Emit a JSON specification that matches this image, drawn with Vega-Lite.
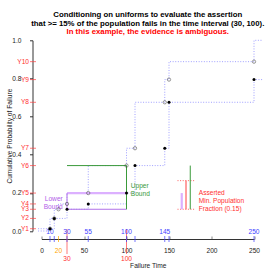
{
  "$schema": "https://vega.github.io/schema/vega-lite/v6.json",
  "width": 212.5,
  "height": 190.7,
  "autosize": {"type": "none"},
  "padding": {"left": 41.5, "top": 40.3, "right": 26, "bottom": 49},
  "background": "white",
  "config": {"view": {"stroke": null}, "font": "Liberation Sans", "axis": {"grid": false}},
  "title": {
    "text": ["Conditioning on uniforms to evaluate the assertion", "that >= 15% of the population fails in the time interval (30, 100)."],
    "subtitle": "In this example, the evidence is ambiguous.",
    "fontSize": 7.8, "fontWeight": "bold", "lineHeight": 9.2, "color": "black",
    "subtitleFontSize": 7.8, "subtitleFontWeight": "bold", "subtitleColor": "#ff0000",
    "subtitlePadding": 0.5, "subtitleLineHeight": 9.2,
    "offset": 1.5, "anchor": "middle", "font": "Liberation Sans", "subtitleFont": "Liberation Sans"
  },
  "resolve": {"axis": {"x": "independent", "y": "independent"}},
  "datasets": {
    "steps": [
      {"t": -4, "lo": 0, "up": 0.012},
      {"t": 10, "status": "failure", "lo": 0.012, "op": 0.012, "up": 0.066, "lab": "10"},
      {"t": 15, "status": "failure", "lo": 0.066, "op": 0.066, "up": 0.114, "lab": ""},
      {"t": 20, "status": "censored", "lo": 0.066, "op": 0.114, "up": 0.142, "lab": "20"},
      {"t": 30, "status": "failure", "lo": 0.114, "op": 0.142, "up": 0.199, "lab": "30"},
      {"t": 55, "status": "failure", "lo": 0.142, "op": 0.199, "up": 0.343, "lab": "55"},
      {"t": 100, "status": "failure", "lo": 0.199, "op": 0.343, "up": 0.434, "lab": "100"},
      {"t": 110, "status": "failure", "lo": 0.343, "op": 0.434, "up": 0.675, "lab": ""},
      {"t": 145, "status": "failure", "lo": 0.434, "op": 0.675, "up": 0.794, "lab": "145"},
      {"t": 150, "status": "failure", "lo": 0.675, "op": 0.794, "up": 0.888, "lab": ""},
      {"t": 250, "status": "failure", "lo": 0.794, "op": 0.888, "up": 1.0, "lab": "250"},
      {"t": 260, "lo": 0.794, "up": 1.0}
    ],
    "yq": [
      {"name": "Y1", "y": 0.012}, {"name": "Y2", "y": 0.066}, {"name": "Y3", "y": 0.114},
      {"name": "Y4", "y": 0.142}, {"name": "Y5", "y": 0.199}, {"name": "Y6", "y": 0.343},
      {"name": "Y7", "y": 0.434}, {"name": "Y8", "y": 0.675}, {"name": "Y9", "y": 0.794},
      {"name": "Y10", "y": 0.888}
    ],
    "bounds": [
      {"kind": "upper", "x": 30, "x2": 100, "y": 0.343, "y2": 0.343},
      {"kind": "upper", "x": 100, "x2": 100, "y": 0.114, "y2": 0.343},
      {"kind": "upper", "x": 175, "x2": 175, "y": 0.114, "y2": 0.343},
      {"kind": "lowerWide", "x": 30, "x2": 100, "y": 0.199, "y2": 0.199},
      {"kind": "lowerWide", "x": 165, "x2": 165, "y": 0.114, "y2": 0.199},
      {"kind": "lower", "x": 30, "x2": 100, "y": 0.114, "y2": 0.114},
      {"kind": "lower", "x": 30, "x2": 30, "y": 0.114, "y2": 0.199},
      {"kind": "asserted", "x": 170, "x2": 170, "y": 0.114, "y2": 0.264},
      {"kind": "guide", "x": 160, "x2": 180, "y": 0.114, "y2": 0.114},
      {"kind": "guide", "x": 160, "x2": 180, "y": 0.264, "y2": 0.264}
    ],
    "xmarks": [
      {"t": 30, "lab": "30"},
      {"t": 100, "lab": "100"}
    ],
    "notes": [
      {"kind": "upper", "lab": "Upper\nBound", "x": 105, "y": 0.236},
      {"kind": "lower", "lab": "Lower\nBound", "x": 25, "y": 0.169},
      {"kind": "asserted", "lab": "Asserted\nMin. Population\nFraction (0.15)", "x": 185, "y": 0.2}
    ]
  },
  "layer": [
    {
      "data": {"name": "steps"},
      "transform": [{"fold": ["lo", "up"], "as": ["series", "v"]}],
      "mark": {"type": "line", "interpolate": "step-after", "color": "#a0a0ff", "strokeDash": [1, 1.6], "strokeWidth": 1},
      "encoding": {
        "x": {"field": "t", "type": "quantitative", "scale": {"domain": [0, 250], "nice": false, "zero": false},
          "axis": {"title": "Failure Time", "values": [0, 50, 100, 150, 200, 250], "format": "d", "offset": 8,
            "domainColor": "#333", "tickSize": -3, "tickColor": "#888", "labelPadding": 11.5, "labelFontSize": 6.6,
            "labelColor": "#222", "labelFlush": false, "labelOverlap": false, "titleFontSize": 6.6,
            "titleFontWeight": "normal", "titleColor": "#222", "titlePadding": 8}},
        "y": {"field": "v", "type": "quantitative", "scale": {"domain": [0, 1], "nice": false, "zero": false},
          "axis": {"title": "Cumulative Probability of Failure", "values": [0, 0.2, 0.4, 0.6, 0.8, 1], "format": ".1f",
            "offset": 9, "domainColor": "#333", "tickSize": 3, "tickColor": "#333", "labelPadding": 8.5,
            "labelFontSize": 6.6, "labelColor": "#222", "labelFlush": false, "labelOverlap": false,
            "titleFontSize": 6.6, "titleFontWeight": "normal", "titleColor": "#222", "titlePadding": -1}},
        "detail": {"field": "series"}
      }
    },
    {
      "data": {"name": "bounds"},
      "transform": [{"filter": "datum.kind == 'guide'"}],
      "mark": {"type": "rule", "color": "#ff6060", "strokeDash": [1, 1.6], "strokeWidth": 1},
      "encoding": {
        "x": {"field": "x", "type": "quantitative", "scale": {"domain": [0, 250]}, "axis": null},
        "x2": {"field": "x2"},
        "y": {"field": "y", "type": "quantitative", "scale": {"domain": [0, 1]}, "axis": null},
        "y2": {"field": "y2"}
      }
    },
    {
      "data": {"name": "bounds"},
      "transform": [{"filter": "datum.kind == 'lowerWide'"}],
      "mark": {"type": "rule", "color": "#dcb0ff", "strokeWidth": 2.2},
      "encoding": {
        "x": {"field": "x", "type": "quantitative", "scale": {"domain": [0, 250]}, "axis": null},
        "x2": {"field": "x2"},
        "y": {"field": "y", "type": "quantitative", "scale": {"domain": [0, 1]}, "axis": null},
        "y2": {"field": "y2"}
      }
    },
    {
      "data": {"name": "bounds"},
      "transform": [{"filter": "datum.kind == 'lower'"}],
      "mark": {"type": "rule", "color": "#b070e8", "strokeWidth": 1},
      "encoding": {
        "x": {"field": "x", "type": "quantitative", "scale": {"domain": [0, 250]}, "axis": null},
        "x2": {"field": "x2"},
        "y": {"field": "y", "type": "quantitative", "scale": {"domain": [0, 1]}, "axis": null},
        "y2": {"field": "y2"}
      }
    },
    {
      "data": {"name": "bounds"},
      "transform": [{"filter": "datum.kind == 'upper'"}],
      "mark": {"type": "rule", "color": "#3a9a3a", "strokeWidth": 1},
      "encoding": {
        "x": {"field": "x", "type": "quantitative", "scale": {"domain": [0, 250]}, "axis": null},
        "x2": {"field": "x2"},
        "y": {"field": "y", "type": "quantitative", "scale": {"domain": [0, 1]}, "axis": null},
        "y2": {"field": "y2"}
      }
    },
    {
      "data": {"name": "bounds"},
      "transform": [{"filter": "datum.kind == 'asserted'"}],
      "mark": {"type": "rule", "color": "#ff4040", "strokeWidth": 1},
      "encoding": {
        "x": {"field": "x", "type": "quantitative", "scale": {"domain": [0, 250]}, "axis": null},
        "x2": {"field": "x2"},
        "y": {"field": "y", "type": "quantitative", "scale": {"domain": [0, 1]}, "axis": null},
        "y2": {"field": "y2"}
      }
    },
    {
      "data": {"name": "xmarks"},
      "mark": {"type": "tick", "orient": "vertical", "color": "#ff4040", "size": 25, "thickness": 1},
      "encoding": {
        "x": {"field": "t", "type": "quantitative", "scale": {"domain": [0, 250]}, "axis": null},
        "y": {"datum": -0.055, "type": "quantitative", "scale": {"domain": [0, 1]}, "axis": null}
      }
    },
    {
      "data": {"name": "steps"},
      "transform": [{"filter": "datum.status == 'censored'"}],
      "mark": {"type": "tick", "orient": "vertical", "color": "#ffa500", "size": 6, "thickness": 1},
      "encoding": {
        "x": {"field": "t", "type": "quantitative", "scale": {"domain": [0, 250]}, "axis": null},
        "y": {"datum": -0.042, "type": "quantitative", "scale": {"domain": [0, 1]}, "axis": null}
      }
    },
    {
      "data": {"name": "steps"},
      "transform": [{"filter": "datum.status == 'failure'"}],
      "mark": {"type": "tick", "orient": "vertical", "color": "#4040ff", "size": 6, "thickness": 1},
      "encoding": {
        "x": {"field": "t", "type": "quantitative", "scale": {"domain": [0, 250]}, "axis": null},
        "y": {"datum": -0.042, "type": "quantitative", "scale": {"domain": [0, 1]}, "axis": null}
      }
    },
    {
      "data": {"name": "steps"},
      "transform": [{"filter": "datum.status == 'failure'"}],
      "mark": {"type": "text", "color": "#4040ff", "fontSize": 6.6, "baseline": "middle", "align": "center"},
      "encoding": {
        "x": {"field": "t", "type": "quantitative", "scale": {"domain": [0, 250]}, "axis": null},
        "y": {"datum": -0.005, "type": "quantitative", "scale": {"domain": [0, 1]}, "axis": null},
        "text": {"field": "lab"}
      }
    },
    {
      "data": {"name": "xmarks"},
      "mark": {"type": "text", "color": "#ff3030", "fontSize": 6.6, "baseline": "middle", "align": "center"},
      "encoding": {
        "x": {"field": "t", "type": "quantitative", "scale": {"domain": [0, 250]}, "axis": null},
        "y": {"datum": -0.148, "type": "quantitative", "scale": {"domain": [0, 1]}, "axis": null},
        "text": {"field": "lab"}
      }
    },
    {
      "data": {"name": "steps"},
      "transform": [{"filter": "datum.status == 'censored'"}],
      "mark": {"type": "text", "color": "#ffa500", "fontSize": 6.6, "baseline": "middle", "align": "center"},
      "encoding": {
        "x": {"field": "t", "type": "quantitative", "scale": {"domain": [0, 250]}, "axis": null},
        "y": {"datum": -0.105, "type": "quantitative", "scale": {"domain": [0, 1]}, "axis": null},
        "text": {"field": "lab"}
      }
    },
    {
      "data": {"name": "yq"},
      "mark": {"type": "tick", "orient": "horizontal", "color": "#ff4040", "size": 6, "thickness": 1},
      "encoding": {
        "x": {"datum": -10, "type": "quantitative", "scale": {"domain": [0, 250]}, "axis": null},
        "y": {"field": "y", "type": "quantitative", "scale": {"domain": [0, 1]}, "axis": null}
      }
    },
    {
      "data": {"name": "yq"},
      "mark": {"type": "text", "color": "#ff3030", "fontSize": 6.6, "baseline": "middle", "align": "right", "dx": -4},
      "encoding": {
        "x": {"datum": -10, "type": "quantitative", "scale": {"domain": [0, 250]}, "axis": null},
        "y": {"field": "y", "type": "quantitative", "scale": {"domain": [0, 1]}, "axis": null},
        "text": {"field": "name"}
      }
    },
    {
      "data": {"name": "notes"},
      "transform": [{"filter": "datum.kind == 'upper'"}],
      "mark": {"type": "text", "color": "#3a9a3a", "fontSize": 6.6, "baseline": "middle", "align": "left", "lineBreak": "\n", "lineHeight": 8.3},
      "encoding": {
        "x": {"field": "x", "type": "quantitative", "scale": {"domain": [0, 250]}, "axis": null},
        "y": {"field": "y", "type": "quantitative", "scale": {"domain": [0, 1]}, "axis": null},
        "text": {"field": "lab"}
      }
    },
    {
      "data": {"name": "notes"},
      "transform": [{"filter": "datum.kind == 'lower'"}],
      "mark": {"type": "text", "color": "#b060e8", "fontSize": 6.6, "baseline": "middle", "align": "right", "lineBreak": "\n", "lineHeight": 8.3},
      "encoding": {
        "x": {"field": "x", "type": "quantitative", "scale": {"domain": [0, 250]}, "axis": null},
        "y": {"field": "y", "type": "quantitative", "scale": {"domain": [0, 1]}, "axis": null},
        "text": {"field": "lab"}
      }
    },
    {
      "data": {"name": "notes"},
      "transform": [{"filter": "datum.kind == 'asserted'"}],
      "mark": {"type": "text", "color": "#ff3030", "fontSize": 6.6, "baseline": "middle", "align": "left", "lineBreak": "\n", "lineHeight": 8.2},
      "encoding": {
        "x": {"field": "x", "type": "quantitative", "scale": {"domain": [0, 250]}, "axis": null},
        "y": {"field": "y", "type": "quantitative", "scale": {"domain": [0, 1]}, "axis": null},
        "text": {"field": "lab"}
      }
    },
    {
      "data": {"name": "steps"},
      "transform": [{"filter": "isValid(datum.op)"}],
      "mark": {"type": "point", "shape": "circle", "filled": false, "size": 11, "stroke": "#444", "strokeWidth": 0.8},
      "encoding": {
        "x": {"field": "t", "type": "quantitative", "scale": {"domain": [0, 250]}, "axis": null},
        "y": {"field": "op", "type": "quantitative", "scale": {"domain": [0, 1]}, "axis": null}
      }
    },
    {
      "data": {"name": "steps"},
      "transform": [{"filter": "datum.status == 'failure'"}],
      "mark": {"type": "circle", "size": 9, "color": "black", "opacity": 1},
      "encoding": {
        "x": {"field": "t", "type": "quantitative", "scale": {"domain": [0, 250]}, "axis": null},
        "y": {"field": "lo", "type": "quantitative", "scale": {"domain": [0, 1]}, "axis": null}
      }
    }
  ]
}
